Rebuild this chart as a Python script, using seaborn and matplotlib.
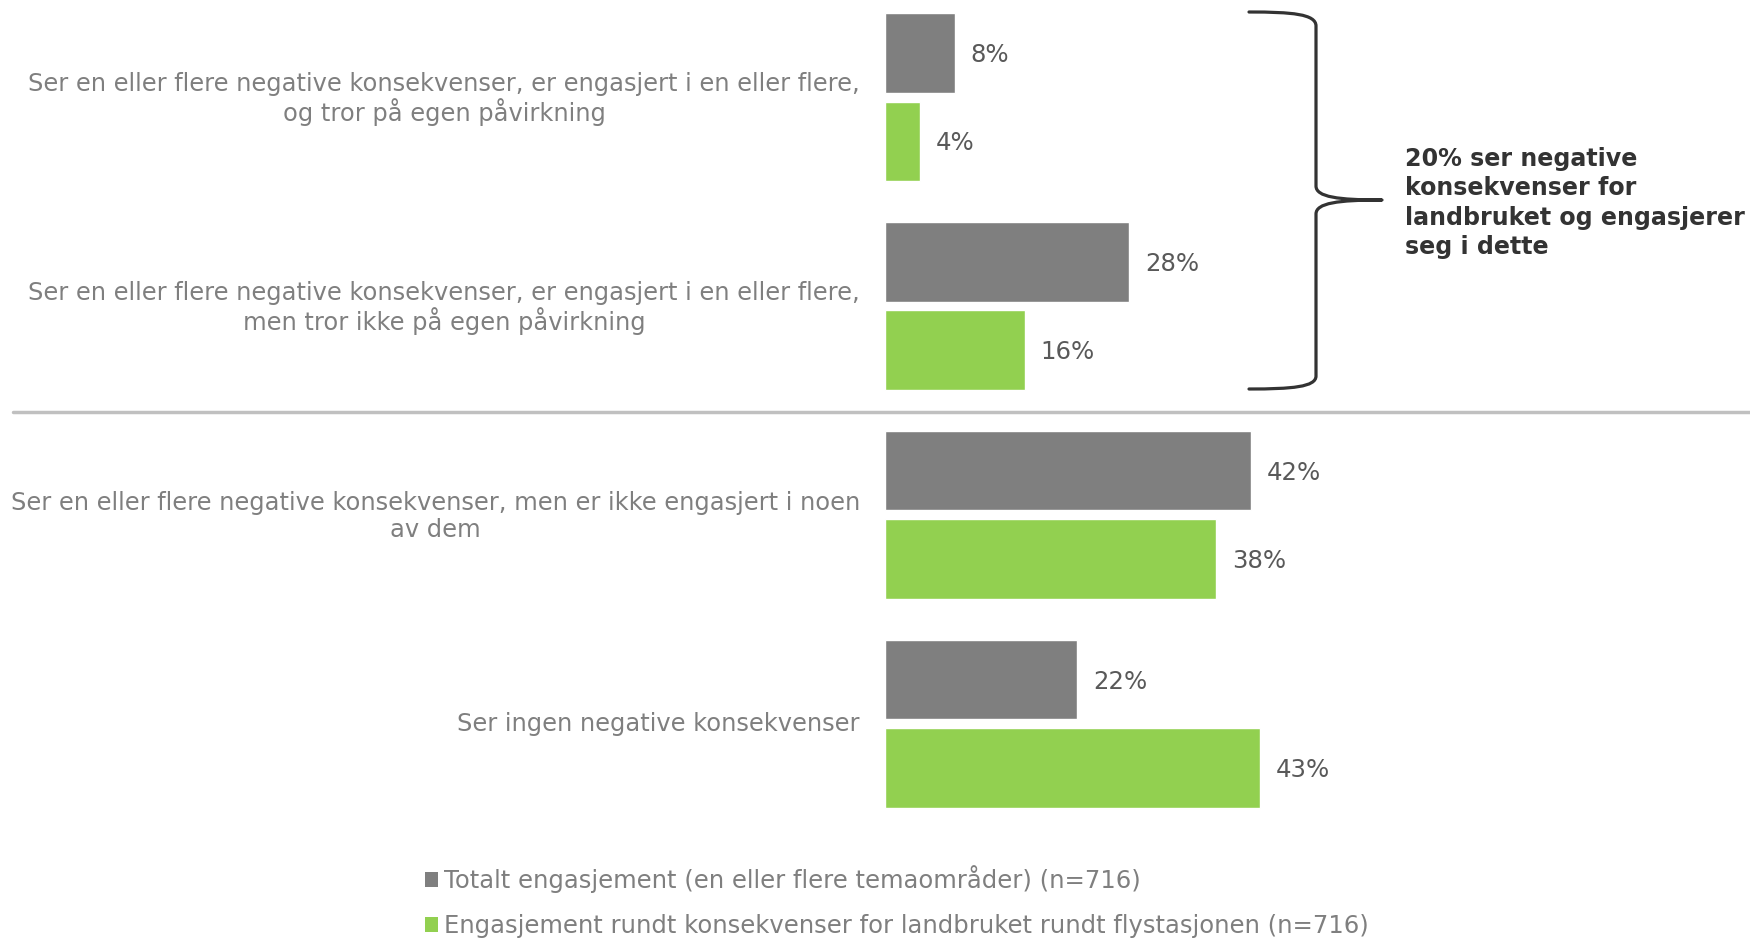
import matplotlib
matplotlib.use("Agg")
import matplotlib.pyplot as plt
import matplotlib.transforms as mtransforms
import seaborn as sns
import pandas as pd
from matplotlib.path import Path
from matplotlib.patches import PathPatch, Patch
from matplotlib.lines import Line2D

categories = [
    "Ser en eller flere negative konsekvenser, er engasjert i en eller flere,\nog tror på egen påvirkning",
    "Ser en eller flere negative konsekvenser, er engasjert i en eller flere,\nmen tror ikke på egen påvirkning",
    "Ser en eller flere negative konsekvenser, men er ikke engasjert i noen\nav dem",
    "Ser ingen negative konsekvenser",
]
series_names = [
    "Totalt engasjement (en eller flere temaområder) (n=716)",
    "Engasjement rundt konsekvenser for landbruket rundt flystasjonen (n=716)",
]
total_values = [8, 28, 42, 22]
landbruk_values = [4, 16, 38, 43]
annotation_text = "20% ser negative\nkonsekvenser for\nlandbruket og engasjerer\nseg i dette"

colors = ["#7f7f7f", "#92d050"]

df = pd.DataFrame({
    "category": categories * 2,
    "value": total_values + landbruk_values,
    "series": [series_names[0]] * 4 + [series_names[1]] * 4,
})

sns.set_theme(style="white")
plt.rcParams["font.family"] = ["DejaVu Sans"]

W, H = 1750, 939
fig = plt.figure(figsize=(W / 100, H / 100), dpi=100)

# axes placement in pixel terms
left_px, right_px = 885, 885 + 98 * 8.72
top_px, bot_px = 3.1, 817.8
ax = fig.add_axes([left_px / W, 1 - bot_px / H, (right_px - left_px) / W, (bot_px - top_px) / H])

sns.barplot(data=df, y="category", x="value", hue="series", orient="h",
            palette=colors, width=0.845, gap=0.1, legend=False, ax=ax,
            saturation=1, order=categories, hue_order=series_names)

ax.set_xlim(0, 98)
ax.set_ylim(3.45, -0.45)
for c in ax.containers:
    texts = ax.bar_label(c, fmt="%d%%", padding=11.5, fontsize=17.6, color="#595959")
    for t in texts:
        t.xyann = (11.5, -1.6)

for s in ax.spines.values():
    s.set_visible(False)
ax.set_xticks([])
ax.set_xlabel("")
ax.set_ylabel("")
ax.tick_params(axis="y", length=0, pad=18, labelsize=17.4, labelcolor="#7f7f7f")
shift = mtransforms.ScaledTranslation(0, 1.4 / 72, fig.dpi_scale_trans)
for lbl in ax.get_yticklabels():
    lbl.set_multialignment("center")
    lbl.set_linespacing(1.12)
    lbl.set_transform(lbl.get_transform() + shift)

def fx(x):
    return x / W

def fy(y):
    return 1 - y / H

# separator line
fig.add_artist(Line2D([fx(13), fx(1750)], [fy(412), fy(412)], color="#c0c0c0", lw=2.5,
                      transform=fig.transFigure))

# curly brace
pts = [
    (1249, 12), (1292, 12), (1316, 14), (1316, 26),
    (1316, 186),
    (1316, 197), (1338, 200), (1382, 200),
    (1338, 200), (1316, 203), (1316, 214),
    (1316, 376),
    (1316, 387), (1292, 389), (1249, 389),
]
codes = [Path.MOVETO, Path.CURVE4, Path.CURVE4, Path.CURVE4,
         Path.LINETO,
         Path.CURVE4, Path.CURVE4, Path.CURVE4,
         Path.CURVE4, Path.CURVE4, Path.CURVE4,
         Path.LINETO,
         Path.CURVE4, Path.CURVE4, Path.CURVE4]
path = Path([(fx(x), fy(y)) for x, y in pts], codes)
fig.add_artist(PathPatch(path, fill=False, edgecolor="#333333", lw=2.3,
                         transform=fig.transFigure, capstyle="round", joinstyle="round"))

fig.text(fx(1405), fy(203), annotation_text, ha="left", va="center", fontsize=17.1,
         fontweight="bold", color="#333333", linespacing=1.29)

handles = [Patch(facecolor=colors[0], edgecolor="none"), Patch(facecolor=colors[1], edgecolor="none")]
fig.legend(handles=handles, labels=series_names, loc="upper left",
           bbox_to_anchor=(fx(425), fy(865)), frameon=False, fontsize=17.5,
           handlelength=0.55, handleheight=0.55, handletextpad=0.23, labelspacing=0.87,
           borderpad=0, borderaxespad=0, labelcolor="#7f7f7f")

fig.savefig("out.png", dpi=100)
